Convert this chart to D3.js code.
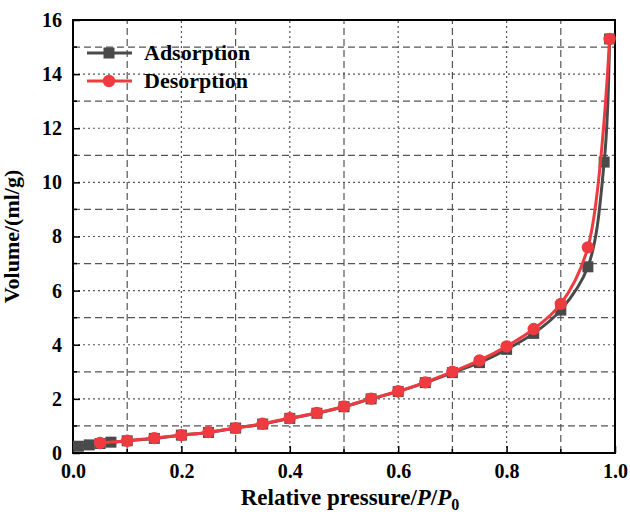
<!DOCTYPE html>
<html>
<head>
<meta charset="utf-8">
<script src="https://cdn.jsdelivr.net/npm/d3@7"></script>
<style>
  html, body { margin: 0; padding: 0; background: #fff; }
  svg { display: block; }
  text { font-family: "Liberation Serif", "Times New Roman", serif; font-weight: bold; fill: #000; }
</style>
</head>
<body>
<svg id="chart" width="630" height="514"></svg>
<script>
// Nitrogen isotherm: relative pressure vs adsorbed volume
const adsorptionP = [0.01, 0.03, 0.05, 0.07, 0.10, 0.15, 0.20, 0.25, 0.30, 0.35, 0.40, 0.45, 0.50,
                     0.55, 0.60, 0.65, 0.70, 0.75, 0.80, 0.85, 0.90, 0.95, 0.98, 0.99];
const adsorptionV = [0.25, 0.30, 0.35, 0.40, 0.45, 0.54, 0.66, 0.76, 0.92, 1.07, 1.28, 1.47, 1.71,
                     2.00, 2.27, 2.60, 2.97, 3.34, 3.83, 4.42, 5.28, 6.88, 10.75, 15.30];
const desorptionP = [0.05, 0.10, 0.15, 0.20, 0.25, 0.30, 0.35, 0.40, 0.45, 0.50,
                     0.55, 0.60, 0.65, 0.70, 0.75, 0.80, 0.85, 0.90, 0.95, 0.99];
const desorptionV = [0.37, 0.45, 0.55, 0.66, 0.77, 0.92, 1.08, 1.29, 1.48, 1.72,
                     2.01, 2.28, 2.61, 3.00, 3.42, 3.94, 4.58, 5.51, 7.60, 15.30];
const xTicks = [0.0, 0.2, 0.4, 0.6, 0.8, 1.0];
const yTicks = [0, 2, 4, 6, 8, 10, 12, 14, 16];
const seriesNames = ["Adsorption", "Desorption"];
const seriesColors = ["#4a4a4a", "#ef3b3f"];

const svg = d3.select("#chart");
const margin = { left: 73, right: 15, top: 20, bottom: 61 };
const W = 630, H = 514;
const x = d3.scaleLinear().domain([0, 1]).range([margin.left, W - margin.right]);
const y = d3.scaleLinear().domain([0, 16]).range([H - margin.bottom, margin.top]);

// grid: major lines dotted, minor lines dashed
const gridG = svg.append("g").attr("stroke", "#555").attr("stroke-width", 1.2);
d3.range(0.1, 1.0, 0.1).forEach((v, i) => {
  const major = (i % 2 === 1);
  gridG.append("line")
    .attr("x1", x(v)).attr("x2", x(v))
    .attr("y1", y(0)).attr("y2", y(16))
    .attr("stroke-dasharray", major ? "2,3" : "7,4");
});
d3.range(1, 16, 1).forEach(v => {
  const major = (v % 2 === 0);
  gridG.append("line")
    .attr("x1", x(0)).attr("x2", x(1))
    .attr("y1", y(v)).attr("y2", y(v))
    .attr("stroke-dasharray", major ? "2,3" : "7,4");
});

// axes with inward ticks
const xAxis = d3.axisBottom(x).tickValues(xTicks).tickFormat(d3.format(".1f")).tickSize(-7).tickPadding(11);
const yAxis = d3.axisLeft(y).tickValues(yTicks).tickFormat(d3.format("d")).tickSize(-7).tickPadding(11);
const gx = svg.append("g").attr("transform", `translate(0,${y(0)})`).call(xAxis);
const gy = svg.append("g").attr("transform", `translate(${x(0)},0)`).call(yAxis);
[gx, gy].forEach(g => {
  g.select(".domain").remove();
  g.selectAll(".tick line").attr("stroke", "#000").attr("stroke-width", 1.5);
  g.selectAll(".tick text").style("font-size", "20px").style("font-family", "Liberation Serif").style("font-weight", "bold").attr("fill", "#000");
});
// minor ticks
const minorX = d3.range(0.1, 1.0, 0.2);
const minorY = d3.range(1, 16, 2);
svg.append("g").selectAll("line").data(minorX).join("line")
  .attr("x1", d => x(d)).attr("x2", d => x(d))
  .attr("y1", y(0)).attr("y2", y(0) - 4)
  .attr("stroke", "#000").attr("stroke-width", 1.5);
svg.append("g").selectAll("line").data(minorY).join("line")
  .attr("x1", x(0)).attr("x2", x(0) + 4)
  .attr("y1", d => y(d)).attr("y2", d => y(d))
  .attr("stroke", "#000").attr("stroke-width", 1.5);

// frame
svg.append("rect")
  .attr("x", x(0)).attr("y", y(16))
  .attr("width", x(1) - x(0)).attr("height", y(0) - y(16))
  .attr("fill", "none").attr("stroke", "#000").attr("stroke-width", 2);

// curves
const line = d3.line().x(d => x(d[0])).y(d => y(d[1])).curve(d3.curveCatmullRom.alpha(0.5));
const ads = adsorptionP.map((p, i) => [p, adsorptionV[i]]);
const des = desorptionP.map((p, i) => [p, desorptionV[i]]);

svg.append("path").datum(ads).attr("d", line)
  .attr("fill", "none").attr("stroke", seriesColors[0]).attr("stroke-width", 3);
svg.append("g").selectAll("rect").data(ads).join("rect")
  .attr("x", d => x(d[0]) - 5.5).attr("y", d => y(d[1]) - 5.5)
  .attr("width", 11).attr("height", 11).attr("fill", seriesColors[0]);

svg.append("path").datum(des).attr("d", line)
  .attr("fill", "none").attr("stroke", seriesColors[1]).attr("stroke-width", 3);
svg.append("g").selectAll("circle").data(des).join("circle")
  .attr("cx", d => x(d[0])).attr("cy", d => y(d[1]))
  .attr("r", 6.2).attr("fill", seriesColors[1]);

// legend
const legend = svg.append("g");
seriesNames.forEach((name, i) => {
  const ly = 53 + i * 28;
  legend.append("line").attr("x1", 87).attr("x2", 132).attr("y1", ly).attr("y2", ly)
    .attr("stroke", seriesColors[i]).attr("stroke-width", 3);
  if (i === 0) {
    legend.append("rect").attr("x", 109 - 5.5).attr("y", ly - 5.5).attr("width", 11).attr("height", 11)
      .attr("fill", seriesColors[i]);
  } else {
    legend.append("circle").attr("cx", 109).attr("cy", ly).attr("r", 6.2).attr("fill", seriesColors[i]);
  }
  legend.append("text").attr("x", 144).attr("y", ly + 7).style("font-size", "22px").text(name);
});

// axis titles
svg.append("text")
  .attr("transform", `translate(19,${(y(0) + y(16)) / 2}) rotate(-90)`)
  .attr("text-anchor", "middle").style("font-size", "22px")
  .text("Volume/(ml/g)");

const xt = svg.append("text")
  .attr("x", (x(0) + x(1)) / 2 + 6).attr("y", 505)
  .attr("text-anchor", "middle").style("font-size", "23px");
xt.append("tspan").text("Relative pressure/");
xt.append("tspan").style("font-style", "italic").text("P");
xt.append("tspan").text("/");
xt.append("tspan").style("font-style", "italic").text("P");
xt.append("tspan").attr("dy", 5).style("font-size", "16px").text("0");
</script>
</body>
</html>
